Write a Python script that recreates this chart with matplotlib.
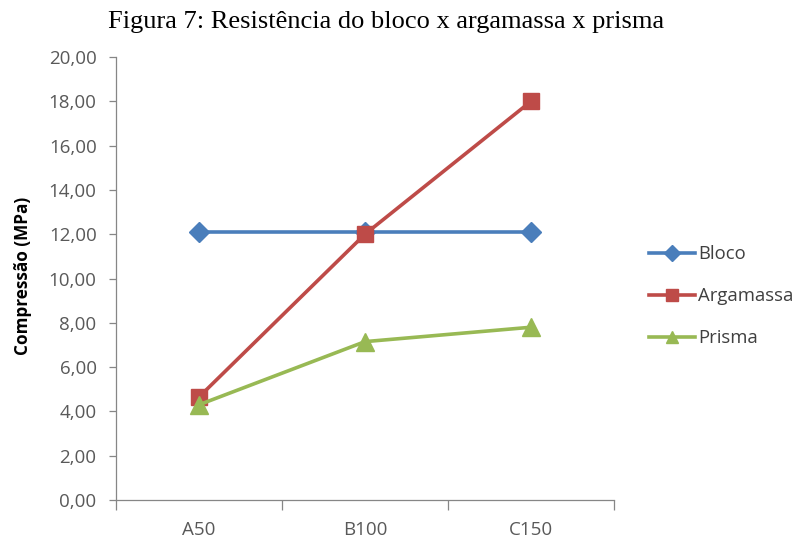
import matplotlib
matplotlib.use("Agg")
import matplotlib.pyplot as plt
from matplotlib.ticker import FixedLocator, FuncFormatter

categories = ["A50", "B100", "C150"]
bloco = [12.10, 12.10, 12.10]
argamassa = [4.65, 12.00, 18.00]
prisma = [4.30, 7.15, 7.80]
y_ticks = [0, 2, 4, 6, 8, 10, 12, 14, 16, 18, 20]

W, H = 794, 538
fig = plt.figure(figsize=(W / 100, H / 100), dpi=100)
ax = fig.add_axes([116 / W, 1 - 500 / H, (614 - 116) / W, (500 - 57) / H])

x = list(range(len(categories)))
ax.plot(x, bloco, color="#4a7ebb", lw=2.6, marker="D", ms=10, label="Bloco", zorder=3)
ax.plot(x, argamassa, color="#be4b48", lw=2.6, marker="s", ms=12, label="Argamassa", zorder=4)
ax.plot(x, prisma, color="#98b954", lw=2.6, marker="^", ms=13, label="Prisma", zorder=5)

ax.set_xlim(-0.5, len(categories) - 0.5)
ax.set_ylim(0, 20)

tick_color = "#595959"
axis_color = "#868686"
for s in ["top", "right"]:
    ax.spines[s].set_visible(False)
for s in ["left", "bottom"]:
    ax.spines[s].set_color(axis_color)
    ax.spines[s].set_linewidth(0.9)

ax.yaxis.set_major_locator(FixedLocator(y_ticks))
ax.yaxis.set_major_formatter(FuncFormatter(lambda v, p: f"{v:.2f}".replace(".", ",")))
ax.tick_params(axis="y", direction="out", length=5, width=0.9, color=axis_color,
               labelsize=13.5, labelcolor=tick_color, pad=9)

ax.set_xticks(x)
ax.set_xticklabels(categories)
ax.set_xticks([i - 0.5 for i in range(len(categories) + 1)], minor=True)
ax.tick_params(axis="x", which="major", length=0, labelsize=13.5, labelcolor=tick_color, pad=15)
ax.tick_params(axis="x", which="minor", direction="out", length=7, width=0.9, color=axis_color)

for lbl in ax.get_xticklabels() + ax.get_yticklabels():
    lbl.set_family("Open Sans")

ax.set_ylabel("Compressão (MPa)", fontsize=12.3, fontweight="bold", family="Open Sans",
              color="#000000")
ax.yaxis.set_label_coords(-0.169, 0.505)

leg = fig.legend(loc="center left", bbox_to_anchor=(649 / W, 1 - 296 / H), frameon=False,
                 prop={"family": "Open Sans", "size": 13.3}, handlelength=2.5,
                 handletextpad=0.15, labelspacing=1.3, borderaxespad=0, borderpad=0)
for t in leg.get_texts():
    t.set_color("#404040")
for h in leg.legend_handles:
    h.set_markersize(8)

fig.text(386 / W, 1 - 22 / H, "Figura 7: Resistência do bloco x argamassa x prisma",
         ha="center", va="center", fontsize=19, family="Liberation Serif", color="black")

fig.savefig("out.png", dpi=100)
